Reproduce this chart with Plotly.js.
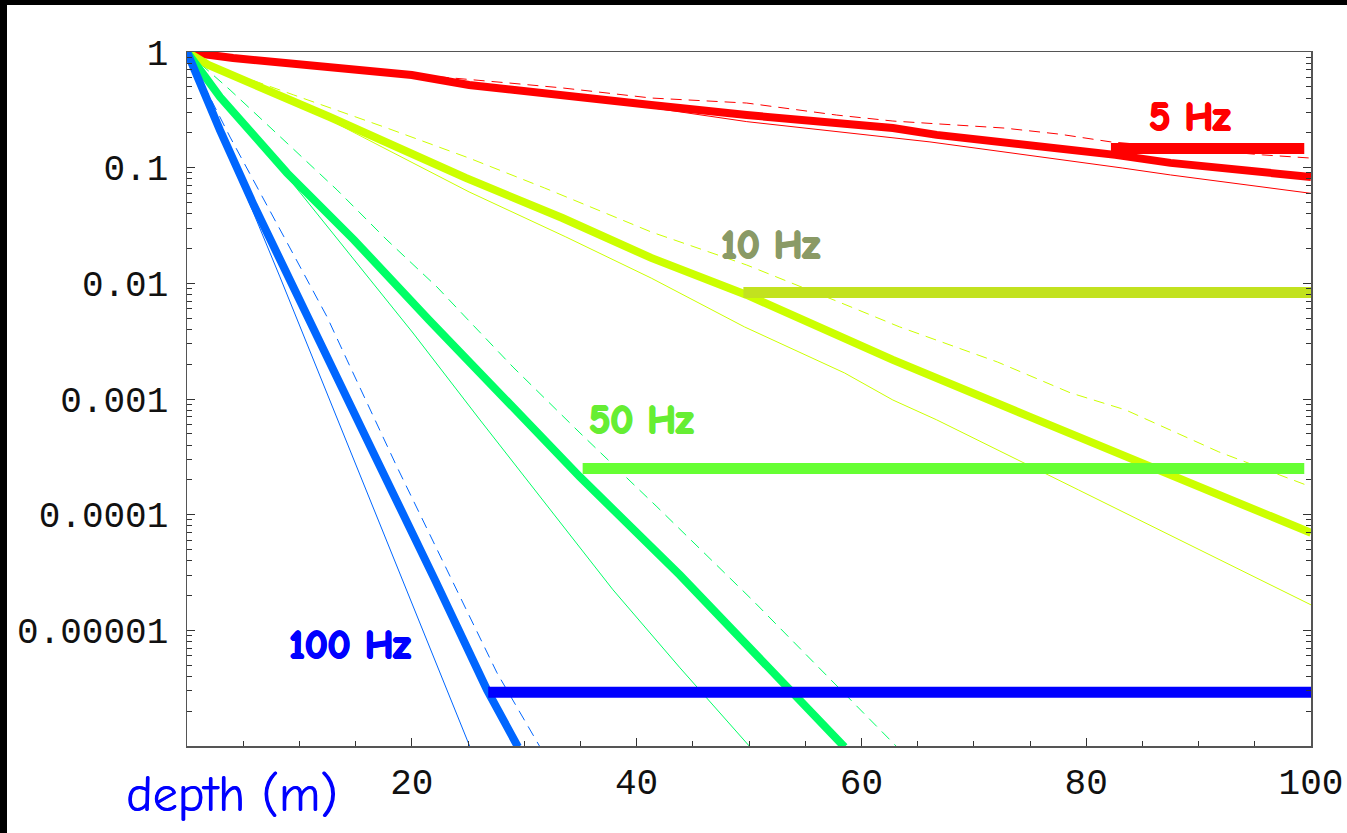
<!DOCTYPE html>
<html>
<head>
<meta charset="utf-8">
<script src="https://cdn.plot.ly/plotly-3.0.1.min.js"></script>
<style>
  html, body { margin: 0; padding: 0; background: #000; width: 1347px; height: 833px; overflow: hidden; }
  #plot { position: absolute; left: 7px; top: 5px; width: 1340px; height: 828px; background: #fff; }
</style>
</head>
<body>
<div id="plot"></div>
<script>
// ---- Data (depth in m, relative amplitude) ----
// 5 Hz
const f5_thick_depth = [0, 4.1, 20, 25.1, 41.3, 49.8, 62.8, 66.7, 82.6, 87.5, 100];
const f5_thick_amp   = [1, 0.887, 0.633, 0.519, 0.348, 0.285, 0.220, 0.192, 0.129, 0.110, 0.083];
const f5_thin_depth  = [0, 4.1, 20, 41.3, 49.8, 66.1, 83.2, 87.5, 100];
const f5_thin_amp    = [1, 0.88, 0.62, 0.33, 0.25, 0.167, 0.0994, 0.0865, 0.060];
const f5_dash_depth  = [0, 20, 28.6, 33.4, 41.3, 49.8, 57.8, 62.8, 72.7, 77.6, 82.2, 95.7, 100];
const f5_dash_amp    = [1, 0.64, 0.54, 0.489, 0.40, 0.362, 0.285, 0.253, 0.220, 0.195, 0.167, 0.129, 0.121];
// 10 Hz
const f10_thick_depth = [0, 1.9, 12.7, 24.8, 33.4, 41.3, 49.8, 62.8, 75.0, 79.3, 83.5, 100];
const f10_thick_amp   = [1, 0.772, 0.274, 0.0815, 0.0367, 0.0166, 0.00794, 0.00218, 0.0007, 0.00047, 0.000329, 6.96e-5];
const f10_thin_depth  = [0, 1.9, 12.7, 25.1, 33.7, 41.3, 49.6, 58.5, 62.8, 66.7, 79.3, 100];
const f10_thin_amp    = [1, 0.78, 0.258, 0.0617, 0.0252, 0.0111, 0.0042, 0.00168, 0.00098, 0.00066, 0.000164, 1.66e-5];
const f10_dash_depth  = [0, 1.9, 9.5, 17.8, 25.1, 31.8, 41.3, 49.8, 58.2, 63.4, 72.1, 78.6, 83.5, 91.8, 100];
const f10_dash_amp    = [1, 0.78, 0.425, 0.22, 0.121, 0.0668, 0.0278, 0.0144, 0.00677, 0.0042, 0.00209, 0.00113, 0.000805, 0.000349, 0.000174];
// 50 Hz
const f50_thick_depth = [0, 2.94, 8.9, 14.86, 21.53, 26.07, 34.96, 43.86, 49.8, 58.5];
const f50_thick_amp   = [1, 0.408, 0.0899, 0.0237, 0.00483, 0.00168, 0.000212, 3.0e-5, 7.5e-6, 9.8e-7];
const f50_thin_depth  = [0, 14.23, 20.11, 26.07, 32.03, 37.9, 43.86, 50.1];
const f50_thin_amp    = [1, 0.0194, 0.00372, 0.000659, 0.000121, 2.24e-5, 4.74e-6, 9.8e-7];
const f50_dash_depth  = [0, 3.83, 8.9, 13.35, 17.79, 22.24, 25.18, 29.0, 34.96, 41.81, 50.27, 57.56, 63.17];
const f50_dash_amp    = [1, 0.47, 0.163, 0.0642, 0.0237, 0.0093, 0.00464, 0.00189, 0.000509, 0.000117, 1.84e-5, 3.52e-6, 9.8e-7];
// 100 Hz
const f100_thick_depth = [0, 2.94, 5.96, 10.68, 16.46, 22.06, 26.69, 29.45];
const f100_thick_amp   = [1, 0.21, 0.047, 0.00513, 0.000363, 2.73e-5, 3.06e-6, 9.8e-7];
const f100_thin_depth  = [0, 8.27, 25.18];
const f100_thin_amp    = [1, 0.01136, 9.8e-7];
const f100_dash_depth  = [0, 3.83, 8.63, 12.46, 14.23, 18.68, 23.13, 27.58, 31.41];
const f100_dash_amp    = [1, 0.184, 0.0252, 0.00513, 0.00218, 0.000259, 3.33e-5, 4.29e-6, 9.8e-7];

// Horizontal levels (one per frequency)
const level_labels = ['5 Hz', '10 Hz', '50 Hz', '100 Hz'];
const level_start  = [82.2, 49.5, 35.2, 26.8];
const level_end    = [99.4, 100.8, 99.4, 100.7];
const level_value  = [0.1466, 0.00834, 0.000251, 2.91e-6];

// Label anchor positions (depth, amplitude)
const label_depth = [89.2, 51.9, 40.4, 14.5];
const label_amp   = [0.274, 0.0215, 0.00066, 7.5e-6];

const yTickVals = [1, 0.1, 0.01, 0.001, 0.0001, 0.00001];
const yTickText = ['1', '0.1', '0.01', '0.001', '0.0001', '0.00001'];
const xTickVals = [20, 40, 60, 80, 100];
const xTickText = ['20', '40', '60', '80', '100'];

// ---- Styles ----
const curveColors = ['#ff0000', '#ccff00', '#00ff66', '#0066ff'];
const barColors   = ['#ff0000', '#c2e21f', '#66ff33', '#0000ff'];
const labelColors = ['#ff0000', '#8a9a66', '#66ee33', '#0000ff'];

const sets = [
  [f5_thick_depth, f5_thick_amp, f5_thin_depth, f5_thin_amp, f5_dash_depth, f5_dash_amp],
  [f10_thick_depth, f10_thick_amp, f10_thin_depth, f10_thin_amp, f10_dash_depth, f10_dash_amp],
  [f50_thick_depth, f50_thick_amp, f50_thin_depth, f50_thin_amp, f50_dash_depth, f50_dash_amp],
  [f100_thick_depth, f100_thick_amp, f100_thin_depth, f100_thin_amp, f100_dash_depth, f100_dash_amp]
];

const traces = [];
sets.forEach((s, i) => {
  traces.push({x: s[2], y: s[3], mode: 'lines', line: {color: curveColors[i], width: 1}});
  traces.push({x: s[4], y: s[5], mode: 'lines', line: {color: curveColors[i], width: 1, dash: '11px,7px'}});
});
sets.forEach((s, i) => {
  traces.push({x: s[0], y: s[1], mode: 'lines', line: {color: curveColors[i], width: 8}});
});
level_value.forEach((v, i) => {
  traces.push({x: [level_start[i], level_end[i]], y: [v, v], mode: 'lines',
               line: {color: barColors[i], width: 11}});
});

const labelFont = "'Comic Sans MS', 'Comic Neue', 'DejaVu Sans', sans-serif";
const boldShadow = c => `1px 0px 0px ${c}, -1px 0px 0px ${c}, 0px 1px 0px ${c}, 0px -1px 0px ${c}, 1px 1px 0px ${c}`;
const annotations = level_labels.map((t, i) => ({
  x: label_depth[i], y: Math.log10(label_amp[i]), xref: 'x', yref: 'y',
  text: t, showarrow: false,
  font: {family: labelFont, size: 40, weight: 'bold', color: labelColors[i], shadow: boldShadow(labelColors[i])},
  xanchor: 'center', yanchor: 'middle'
}));
annotations.push({
  x: 0.04, y: -0.07, xref: 'paper', yref: 'paper', text: 'depth (m)', showarrow: false,
  font: {family: labelFont, size: 50, color: '#0000ff', shadow: '0.6px 0px 0px #0000ff'},
  xanchor: 'center', yanchor: 'middle'
});

const tickFont = {family: "'Liberation Mono', 'DejaVu Sans Mono', monospace", size: 36, color: '#111'};

const layout = {
  width: 1340, height: 828,
  margin: {l: 180, r: 36, t: 47, b: 87},
  paper_bgcolor: '#ffffff', plot_bgcolor: '#ffffff',
  showlegend: false, hovermode: false,
  xaxis: {
    range: [0, 100], showgrid: false, zeroline: false,
    showline: true, linecolor: '#555', linewidth: 1.5, mirror: true,
    ticks: 'inside', ticklen: 8, tickwidth: 1, tickcolor: '#333',
    tickvals: xTickVals, ticktext: xTickText, tickfont: tickFont,
    ticklabelstandoff: 3,
    minor: {dtick: 5, tick0: 0, ticks: 'inside', ticklen: 5, tickwidth: 1, tickcolor: '#333', showgrid: false}
  },
  yaxis: {
    type: 'log', range: [-6, 0], showgrid: false, zeroline: false,
    showline: true, linecolor: '#555', linewidth: 1.5, mirror: 'ticks',
    ticks: 'inside', ticklen: 8, tickwidth: 1, tickcolor: '#333',
    tickvals: yTickVals, ticktext: yTickText, tickfont: tickFont,
    ticklabelstandoff: 10,
    minor: {dtick: 'D1', ticks: 'inside', ticklen: 5, tickwidth: 1, tickcolor: '#333', showgrid: false}
  },
  annotations: annotations
};

Plotly.newPlot('plot', traces, layout, {displayModeBar: false, staticPlot: true});
</script>
</body>
</html>
